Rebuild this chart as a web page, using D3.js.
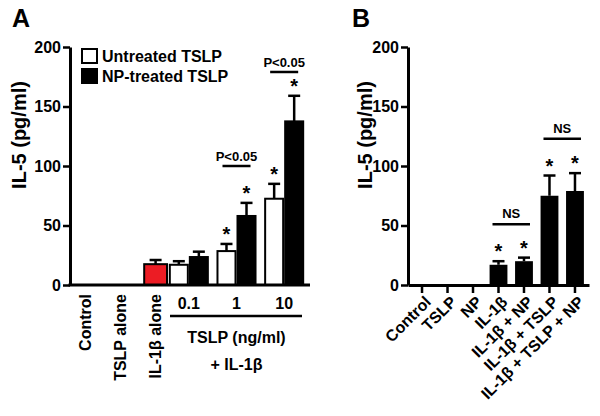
<!DOCTYPE html>
<html>
<head>
<meta charset="utf-8">
<script src="https://cdn.jsdelivr.net/npm/d3@7"></script>
<style>
  body { margin: 0; background: #fff; }
  svg { font-family: "Liberation Sans", Arial, sans-serif; font-weight: bold; }
</style>
</head>
<body>
<script>
// panel A data
const singleCats = ["Control", "TSLP alone", "IL-1\u03b2 alone"];
const singleVals = [0, 0, 17.5];
const singleErr = [0, 0, 21];
const doseCats = ["0.1", "1", "10"];
const seriesNames = ["Untreated TSLP", "NP-treated TSLP"];
const untreatedVals = [17, 28.5, 72.5];
const untreatedErr = [20, 34.5, 85];
const npVals = [23.5, 58, 137.5];
const npErr = [28, 69, 159];
const untreatedStar = [false, true, true];
const npStar = [false, true, true];
const pLabels = ["", "P<0.05", "P<0.05"];
const pLevels = [null, 100, 179];

// panel B data
const bCats = ["Control", "TSLP", "NP", "IL-1\u03b2", "IL-1\u03b2 + NP", "IL-1\u03b2 + TSLP", "IL-1\u03b2 + TSLP + NP"];
const bVals = [0, 0, 0, 17, 20, 75, 79];
const bErr = [0, 0, 0, 20, 23, 92, 94];
const bStar = [false, false, false, true, true, true, true];
const bNS = [{ from: 3, to: 4, level: 51, text: "NS" }, { from: 5, to: 6, level: 123, text: "NS" }];

const yTicks = [0, 50, 100, 150, 200];

const width = 600, height = 416;
const svg = d3.select("body").append("svg").attr("width", width).attr("height", height);

const y = d3.scaleLinear([0, 200], [285, 47]);

function yAxis(g, x0, label, labelX) {
  const ax = g.append("g").attr("transform", `translate(${x0},0)`)
    .call(d3.axisLeft(y).tickValues(yTicks).tickSize(7).tickPadding(2).tickSizeOuter(0));
  ax.select(".domain").attr("stroke", "#000").attr("stroke-width", 3);
  ax.selectAll(".tick line").attr("stroke", "#000").attr("stroke-width", 2.5);
  ax.selectAll(".tick text").attr("font-size", 16).attr("font-weight", "bold")
    .attr("font-family", "Liberation Sans, Arial, sans-serif").attr("fill", "#000");
  g.append("text")
    .attr("transform", `translate(${labelX},135) rotate(-90)`)
    .attr("text-anchor", "middle").attr("font-size", 20).text(label);
}

function errBar(g, cx, v, e) {
  if (!v) return;
  g.append("line").attr("x1", cx).attr("x2", cx).attr("y1", y(v)).attr("y2", y(e))
    .attr("stroke", "#000").attr("stroke-width", 2.5);
  g.append("line").attr("x1", cx - 6).attr("x2", cx + 6).attr("y1", y(e)).attr("y2", y(e))
    .attr("stroke", "#000").attr("stroke-width", 2.5);
}

function star(g, cx, e) {
  g.append("text").attr("x", cx).attr("y", y(e) - 14 + 11).attr("text-anchor", "middle")
    .attr("font-size", 20).text("*");
}

// ---------- panel A ----------
const gA = svg.append("g");
const axA = 70;
gA.append("text").attr("x", 12).attr("y", 27).attr("font-size", 25).text("A");

const xSingle = d3.scaleBand().domain(singleCats).range([74, 167]).paddingInner(0.35);
const xDose = d3.scaleBand().domain(doseCats).range([165, 308]).paddingInner(0.16).paddingOuter(0.08);
const xSub = d3.scaleBand().domain(seriesNames).range([0, xDose.bandwidth()]);

// bars: singles
gA.selectAll(".single").data(singleCats.filter((c, i) => singleVals[i] > 0))
  .enter().append("rect")
  .attr("x", d => xSingle(d))
  .attr("y", d => y(singleVals[singleCats.indexOf(d)]))
  .attr("width", xSingle.bandwidth())
  .attr("height", d => y(0) - y(singleVals[singleCats.indexOf(d)]))
  .attr("fill", "#ec1c24").attr("stroke", "#000").attr("stroke-width", 2);
singleCats.forEach((c, i) => errBar(gA, xSingle(c) + xSingle.bandwidth() / 2, singleVals[i], singleErr[i]));

// bars: dose groups
const groups = [
  { name: seriesNames[0], vals: untreatedVals, err: untreatedErr, stars: untreatedStar, fill: "#fff" },
  { name: seriesNames[1], vals: npVals, err: npErr, stars: npStar, fill: "#000" }
];
groups.forEach(s => {
  gA.selectAll(null).data(doseCats).enter().append("rect")
    .attr("x", d => xDose(d) + xSub(s.name) + 1)
    .attr("y", (d, i) => y(s.vals[i]))
    .attr("width", xSub.bandwidth() - 2)
    .attr("height", (d, i) => y(0) - y(s.vals[i]))
    .attr("fill", s.fill).attr("stroke", "#000").attr("stroke-width", 2);
  doseCats.forEach((d, i) => {
    const cx = xDose(d) + xSub(s.name) + xSub.bandwidth() / 2;
    errBar(gA, cx, s.vals[i], s.err[i]);
    if (s.stars[i]) star(gA, cx, s.err[i]);
  });
});

// significance lines
doseCats.forEach((d, i) => {
  if (pLevels[i] == null) return;
  const x1 = xDose(d) + xSub.bandwidth() / 2 - 4;
  const x2 = xDose(d) + xSub.bandwidth() * 1.5 + 4;
  gA.append("line").attr("x1", x1).attr("x2", x2).attr("y1", y(pLevels[i])).attr("y2", y(pLevels[i]))
    .attr("stroke", "#000").attr("stroke-width", 2.5);
  gA.append("text").attr("x", (x1 + x2) / 2).attr("y", y(pLevels[i]) - 5)
    .attr("text-anchor", "middle").attr("font-size", 13).text(pLabels[i]);
});

yAxis(gA, axA, "IL-5 (pg/ml)", 26);
gA.append("line").attr("x1", axA - 1.5).attr("x2", 310).attr("y1", y(0)).attr("y2", y(0))
  .attr("stroke", "#000").attr("stroke-width", 3);

// x labels A
gA.selectAll(".slab").data(singleCats).enter().append("text")
  .attr("transform", d => `translate(${xSingle(d) + xSingle.bandwidth() / 2},294) rotate(-90)`)
  .attr("dy", "0.35em").attr("text-anchor", "end").attr("font-size", 16).text(d => d);
gA.selectAll(".dlab").data(doseCats).enter().append("text")
  .attr("x", d => xDose(d) + xDose.bandwidth() / 2).attr("y", 309)
  .attr("text-anchor", "middle").attr("font-size", 16).text(d => d);
gA.append("line").attr("x1", xDose.range()[0] + 5).attr("x2", xDose.range()[1] - 6)
  .attr("y1", 316).attr("y2", 316).attr("stroke", "#000").attr("stroke-width", 2.5);
const midDose = (xDose.range()[0] + xDose.range()[1]) / 2;
gA.append("text").attr("x", midDose).attr("y", 343).attr("text-anchor", "middle").attr("font-size", 16).text("TSLP (ng/ml)");
gA.append("text").attr("x", midDose).attr("y", 370).attr("text-anchor", "middle").attr("font-size", 16).text("+ IL-1\u03b2");

// legend
const leg = gA.append("g");
groups.forEach((s, i) => {
  leg.append("rect").attr("x", 82).attr("y", 49 + i * 20).attr("width", 15).attr("height", 14)
    .attr("fill", s.fill).attr("stroke", "#000").attr("stroke-width", 2);
  leg.append("text").attr("x", 102).attr("y", 62 + i * 20).attr("font-size", 16).text(s.name);
});

// ---------- panel B ----------
const gB = svg.append("g");
const axB = 408;
gB.append("text").attr("x", 352).attr("y", 27).attr("font-size", 25).text("B");

const xB = d3.scaleBand().domain(bCats).range([axB, 589]).paddingInner(0.3).paddingOuter(0.2);

gB.selectAll(".bbar").data(bCats).enter().append("rect")
  .attr("x", d => xB(d)).attr("y", (d, i) => y(bVals[i]))
  .attr("width", xB.bandwidth()).attr("height", (d, i) => y(0) - y(bVals[i]))
  .attr("fill", "#000");
bCats.forEach((c, i) => {
  const cx = xB(c) + xB.bandwidth() / 2;
  errBar(gB, cx, bVals[i], bErr[i]);
  if (bStar[i]) star(gB, cx, bErr[i]);
});
bNS.forEach(n => {
  const x1 = xB(bCats[n.from]) + xB.bandwidth() / 2 - 6;
  const x2 = xB(bCats[n.to]) + xB.bandwidth() / 2 + 6;
  gB.append("line").attr("x1", x1).attr("x2", x2).attr("y1", y(n.level)).attr("y2", y(n.level))
    .attr("stroke", "#000").attr("stroke-width", 2.5);
  gB.append("text").attr("x", (x1 + x2) / 2).attr("y", y(n.level) - 6)
    .attr("text-anchor", "middle").attr("font-size", 13).text(n.text);
});

yAxis(gB, axB, "IL-5 (pg/ml)", 372);
const xaxB = gB.append("g").attr("transform", `translate(0,${y(0)})`)
  .call(d3.axisBottom(xB).tickSize(8).tickSizeOuter(0).tickPadding(2));
xaxB.select(".domain").attr("stroke", "#000").attr("stroke-width", 3);
xaxB.selectAll(".tick line").attr("stroke", "#000").attr("stroke-width", 2.5);
xaxB.selectAll(".tick text")
  .attr("font-size", 16).attr("font-weight", "bold").attr("font-family", "Liberation Sans, Arial, sans-serif")
  .attr("fill", "#000").attr("text-anchor", "end").attr("dy", "0.35em")
  .attr("transform", "translate(6,14) rotate(-45)").attr("y", 0).attr("x", 0);
</script>
</body>
</html>
